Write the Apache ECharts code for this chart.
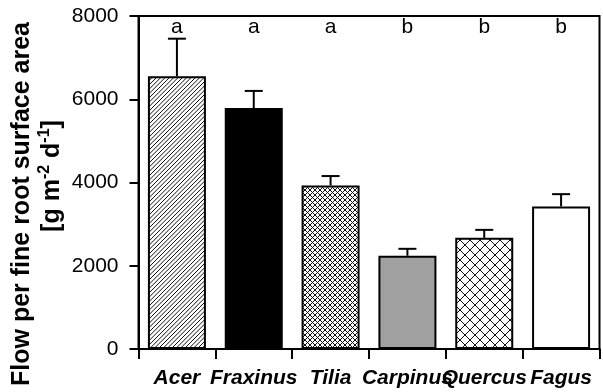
<!DOCTYPE html>
<html>
<head>
<meta charset="utf-8">
<script src="https://cdn.jsdelivr.net/npm/echarts@6/dist/echarts.min.js"></script>
<style>
  html, body { margin: 0; padding: 0; background: #fff; }
  #chart { width: 603px; height: 392px; }
</style>
</head>
<body>
<div id="chart"></div>
<script>
// Species and their mean flow per fine root surface area (g m-2 d-1)
const species = ['Acer', 'Fraxinus', 'Tilia', 'Carpinus', 'Quercus', 'Fagus'];
const flowMean = [6550, 5790, 3930, 2240, 2670, 3425];
const flowSE = [905, 410, 225, 167, 192, 295];
const groupLetters = ['a', 'a', 'a', 'b', 'b', 'b'];
const yTicks = { min: 0, max: 8000, step: 2000 };

const FONT = '"Liberation Sans", Arial, sans-serif';

// Fill patterns for the bars
function makeTile(size, draw) {
  const c = document.createElement('canvas');
  c.width = size; c.height = size;
  const ctx = c.getContext('2d');
  ctx.fillStyle = '#fff';
  ctx.fillRect(0, 0, size, size);
  draw(ctx, size);
  return c;
}
// diagonal "/" hatching
const hatchTile = makeTile(13, (ctx, s) => {
  ctx.strokeStyle = '#111';
  ctx.lineWidth = 1;
  const n = 3;
  for (let k = 0; k < n * 2 + 1; k++) {
    const c = k * s / n;
    ctx.beginPath();
    ctx.moveTo(c + 2, -2);
    ctx.lineTo(c - s - 2, s + 2);
    ctx.stroke();
  }
});
function crossTile(size, width, color) {
  return makeTile(size, (ctx, s) => {
    ctx.strokeStyle = color;
    ctx.lineWidth = width;
    ctx.beginPath();
    ctx.moveTo(-1, -1); ctx.lineTo(s + 1, s + 1);
    ctx.moveTo(s + 1, -1); ctx.lineTo(-1, s + 1);
    ctx.stroke();
  });
}
const fineCross = crossTile(5, 1, '#111');
const coarseCross = crossTile(10, 1, '#111');

const barFills = [
  { image: hatchTile, repeat: 'repeat' },
  '#000000',
  { image: fineCross, repeat: 'repeat' },
  '#a0a0a0',
  { image: coarseCross, repeat: 'repeat' },
  '#ffffff'
];

const chart = echarts.init(document.getElementById('chart'));

chart.setOption({
  animation: false,
  backgroundColor: '#fff',
  textStyle: { fontFamily: FONT },
  grid: {
    left: 138.5, right: 3.5, top: 16, bottom: 43,
    show: true, borderColor: '#000', borderWidth: 2,
    containLabel: false
  },
  xAxis: [
    {
      type: 'category',
      data: species,
      axisLine: { lineStyle: { color: '#000', width: 2 } },
      axisTick: { show: true, length: 10, interval: 0, lineStyle: { color: '#000', width: 2 } },
      axisLabel: {
        interval: 0, margin: 19, color: '#000',
        fontSize: 21, fontWeight: 'bold', fontStyle: 'italic', fontFamily: FONT
      }
    },
    {
      type: 'category',
      position: 'top',
      data: groupLetters,
      axisLine: { show: false },
      axisTick: { show: false },
      axisLabel: { inside: true, margin: 1, color: '#000', fontSize: 21, fontFamily: FONT, interval: 0 }
    }
  ],
  yAxis: {
    type: 'value',
    min: yTicks.min, max: yTicks.max, interval: yTicks.step,
    splitLine: { show: false },
    axisLine: { show: true, lineStyle: { color: '#000', width: 2 } },
    axisTick: { show: true, length: 9, lineStyle: { color: '#000', width: 2 } },
    axisLabel: {
      margin: 20, color: '#000', fontSize: 21, fontFamily: FONT,
      formatter: (v) => String(v)
    }
  },
  series: [
    {
      type: 'bar',
      xAxisIndex: 0,
      barWidth: 58,
      data: flowMean.map((v, i) => ({
        value: v,
        itemStyle: { color: barFills[i], borderColor: '#000', borderWidth: 2 }
      })),
      z: 2
    },
    {
      // upper error bars
      type: 'custom',
      xAxisIndex: 0,
      data: flowMean.map((v, i) => [i, v, flowSE[i]]),
      renderItem: function (params, api) {
        const i = api.value(0);
        const base = api.coord([i, api.value(1)]);
        const top = api.coord([i, api.value(1) + api.value(2)]);
        const half = 9;
        const st = { stroke: '#000', lineWidth: 2 };
        return {
          type: 'group',
          children: [
            { type: 'line', shape: { x1: base[0], y1: base[1], x2: top[0], y2: top[1] }, style: st },
            { type: 'line', shape: { x1: top[0] - half, y1: top[1], x2: top[0] + half, y2: top[1] }, style: st }
          ]
        };
      },
      z: 3
    }
  ],
  graphic: [
    {
      type: 'text',
      x: 22, y: 204,
      rotation: Math.PI / 2,
      style: {
        text: 'Flow per fine root surface area',
        fontSize: 25, fontWeight: 'bold', fontFamily: FONT,
        fill: '#000', align: 'center', verticalAlign: 'middle'
      }
    },
    {
      type: 'text',
      x: 51, y: 176,
      rotation: Math.PI / 2,
      style: {
        text: '{n|[g m}{s|-2}{n| d}{s|-1}{n|]}',
        fill: '#000', align: 'center', verticalAlign: 'middle',
        rich: {
          n: { fontSize: 25, fontWeight: 'bold', fontFamily: FONT, lineHeight: 28, verticalAlign: 'bottom' },
          s: { fontSize: 16, fontWeight: 'bold', fontFamily: FONT, lineHeight: 16, verticalAlign: 'top' }
        }
      }
    }
  ]
});
</script>
</body>
</html>
